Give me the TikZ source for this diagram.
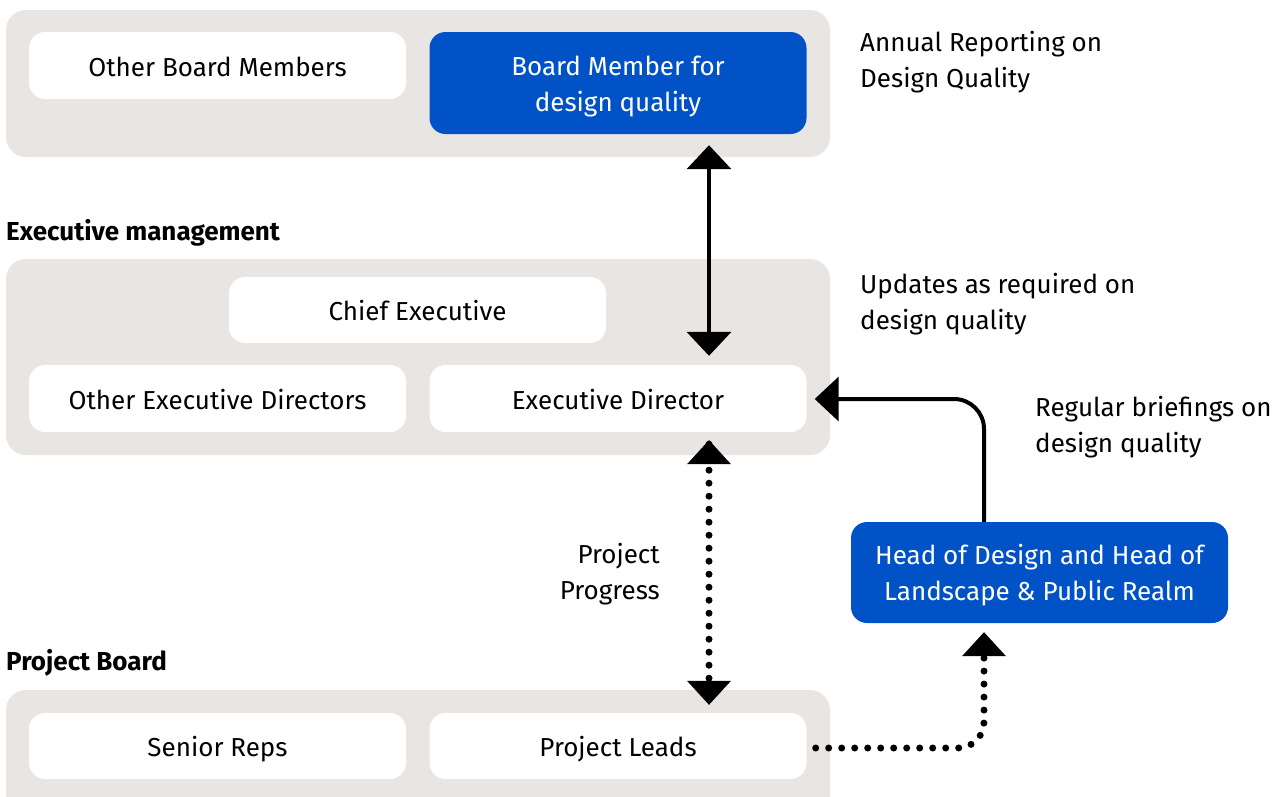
\documentclass[tikz,border=0pt]{standalone}
\usepackage{fontspec}
\setmainfont{Fira Sans}
\usetikzlibrary{arrows.meta,calc}
\definecolor{panelgray}{HTML}{E8E5E2}
\definecolor{brandblue}{HTML}{0052C6}
\tikzset{
  panel/.style={fill=panelgray, rounded corners=20pt, minimum width=824pt, inner sep=0pt},
  whitebox/.style={fill=white, rounded corners=16pt, minimum width=377pt, minimum height=67pt, inner sep=0pt, text height=26pt, text depth=5pt},
  bluebox/.style={fill=brandblue, rounded corners=16pt, minimum width=377pt, minimum height=101pt, inner sep=0pt},
  bluetext/.style={text=white, inner sep=0pt, align=center},
  note/.style={inner sep=0pt, align=left},
  heading/.style={inner sep=0pt, font=\fontsize{26}{36}\selectfont\bfseries},
  link/.style={line width=4pt, -{Triangle[width=44pt,length=24pt]}},
  duallink/.style={line width=4pt, {Triangle[width=44pt,length=24pt]}-{Triangle[width=44pt,length=24pt]}},
  dots/.style={line width=7pt, line cap=round, dash pattern=on 0pt off 13pt},
}
\begin{document}
\begin{tikzpicture}[x=1pt, y=-1pt, font=\fontsize{26}{36}\selectfont]
\useasboundingbox (0,0) rectangle (1279,796);

% grey band panels
\node[panel, minimum height=147pt] (p1) at (418,83.5) {};
\node[panel, minimum height=196pt] (p2) at (418,357) {};
\node[panel, minimum height=140pt] (p3) at (418,760) {};

% board level
\node[whitebox] (obm) at (217.5,65.5) {Other Board Members};
\node[bluebox, minimum height=102pt] (bm) at (618,83) {};
\node[bluetext] (bmtxt) at ($(bm.center)+(0,3.5)$) {Board Member for\\design quality};

% executive level
\node[heading, anchor=base west] (hexec) at (6,240) {Executive management};
\node[whitebox, minimum height=66pt] (ce) at (417.5,310) {Chief Executive};
\node[whitebox] (oed) at (217.5,398.5) {Other Executive Directors};
\node[whitebox] (ed) at (618,398.5) {Executive Director};

% project level
\node[heading, anchor=base west] (hproj) at (6,670) {Project Board};
\node[whitebox, minimum height=66pt] (sr) at (217.5,746) {Senior Reps};
\node[whitebox, minimum height=66pt] (pl) at (618,746) {Project Leads};

% design team
\node[bluebox] (hd) at (1039.5,572.5) {};
\node[bluetext] (hdtxt) at ($(hd.center)+(0,2.5)$) {Head of Design and Head of\\Landscape \& Public Realm};

% side notes
\node[note, anchor=north west] (n1) at (860,31) {Annual Reporting on\\Design Quality};
\node[note, anchor=north west] (n2) at (860,273) {Updates as required on\\design quality};
\node[note, anchor=north west] (n3) at (1035,396) {Regular briefings on\\design quality};
\node[note, anchor=north east, align=right] (n4) at (660,543) {Project\\Progress};

% connectors
\coordinate (colx) at (709,0);
\coordinate (hdx) at (984,0);
\draw[duallink, shorten <=11pt, shorten >=9pt] (bm.south -| colx) -- (ed.north -| colx);

\draw[dots, shorten <=12pt, shorten >=12pt] (ed.south -| colx) -- (pl.north -| colx);
\fill ($(ed.south -| colx)+(0,8)$) -- ++(22,24) -- ++(-44,0) -- cycle;
\fill ($(pl.north -| colx)+(0,-8)$) -- ++(22,-24) -- ++(-44,0) -- cycle;

\draw[link, rounded corners=30pt, shorten >=8pt] (hd.north -| hdx) -- ($(ed.east -| hdx)+(0,0.5)$) -- ($(ed.east)+(0,0.5)$);

\coordinate (bend) at (984,748);
\draw[dots, rounded corners=26pt, shorten <=9pt, shorten >=32pt] ($(pl.east)+(0,2)$) -- (bend) -- (hd.south -| hdx);
\fill ($(hd.south -| hdx)+(0,9)$) -- ++(22,24) -- ++(-44,0) -- cycle;
\end{tikzpicture}
\end{document}
